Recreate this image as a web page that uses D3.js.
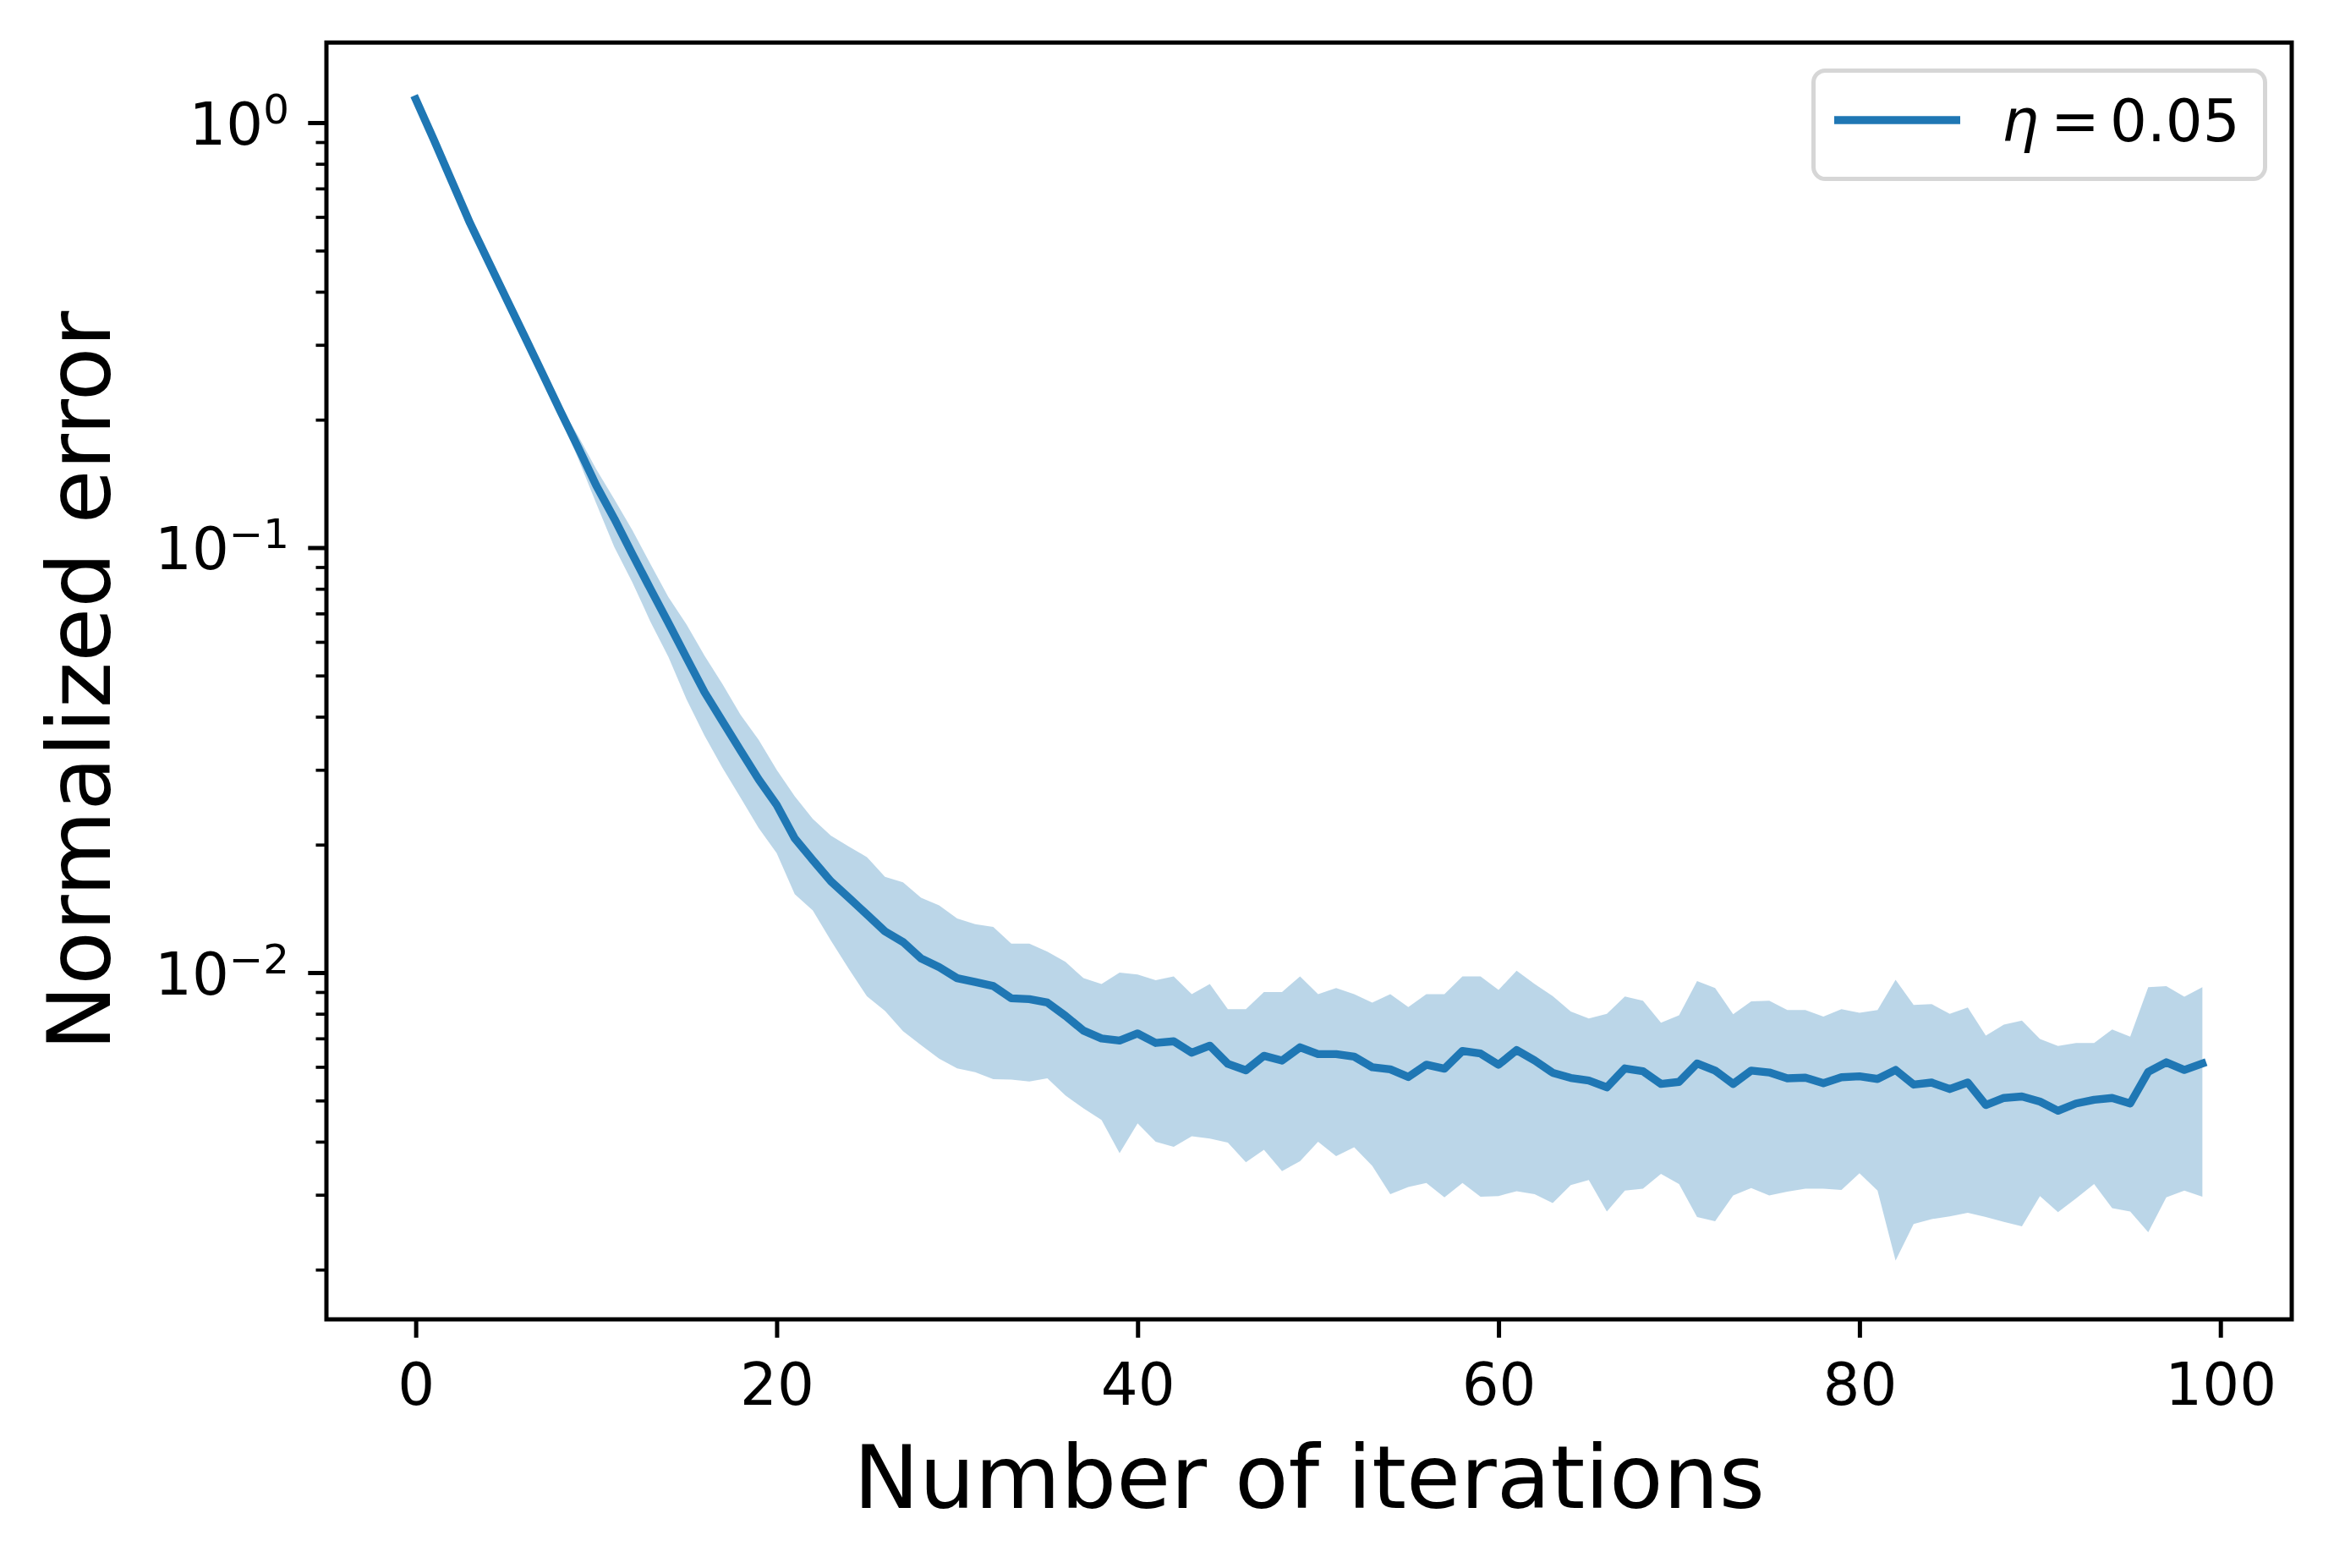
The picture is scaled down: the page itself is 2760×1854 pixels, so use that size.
<!DOCTYPE html>
<html>
<head>
<meta charset="utf-8">
<script src="https://cdn.jsdelivr.net/npm/d3@7"></script>
<style>
  html, body { margin: 0; padding: 0; background: #ffffff; }
  svg { display: block; }
  text { font-family: "DejaVu Sans", sans-serif; fill: #000; }
</style>
</head>
<body>
<svg id="chart" width="2760" height="1854"></svg>
<script>
// ---------------- data ----------------
const meanError = [
  1.135, 0.912, 0.728, 0.581, 0.474, 0.387, 0.316, 0.258, 0.210, 0.172,
  0.140, 0.117, 0.0966, 0.0800, 0.0665, 0.0551, 0.0457, 0.0390, 0.0333, 0.0285,
  0.0248, 0.0207, 0.0184, 0.0164, 0.0150, 0.0137, 0.0125, 0.0118, 0.0108, 0.0103,
  0.0097, 0.0095, 0.0093, 0.0087, 0.00866, 0.00850, 0.00791, 0.00730, 0.00700, 0.00692,
  0.00719, 0.00683, 0.00689, 0.00648, 0.00673, 0.00610, 0.00589, 0.00637, 0.00621, 0.00667,
  0.00643, 0.00643, 0.00634, 0.00599, 0.00592, 0.00568, 0.00607, 0.00594, 0.00654, 0.00645,
  0.00607, 0.00657, 0.00621, 0.00581, 0.00565, 0.00557, 0.00537, 0.00595, 0.00586, 0.00547,
  0.00553, 0.00611, 0.00588, 0.00547, 0.00588, 0.00582, 0.00564, 0.00566, 0.00549, 0.00567,
  0.00570, 0.00562, 0.00590, 0.00545, 0.00551, 0.00532, 0.00551, 0.00488, 0.00507, 0.00511,
  0.00497, 0.00473, 0.00492, 0.00502, 0.00507, 0.00492, 0.00584, 0.00615, 0.00590, 0.00611
];
const upperError = [
  1.139, 0.915, 0.731, 0.584, 0.477, 0.390, 0.319, 0.261, 0.216, 0.183,
  0.153, 0.130, 0.110, 0.0916, 0.0765, 0.0660, 0.0557, 0.0477, 0.0404, 0.0353,
  0.0300, 0.0260, 0.0230, 0.0210, 0.0198, 0.0187, 0.0168, 0.0163, 0.0150, 0.0144,
  0.0134, 0.0130, 0.0128, 0.0117, 0.0117, 0.0112, 0.0106, 0.0097, 0.0094, 0.0100,
  0.0099, 0.0096, 0.0098, 0.0089, 0.0094, 0.0082, 0.0082, 0.0090, 0.0090, 0.0098,
  0.0089, 0.0092, 0.0089, 0.0085, 0.0089, 0.0083, 0.0089, 0.0089, 0.0098, 0.0098,
  0.0091, 0.0101, 0.0094, 0.0088, 0.0081, 0.0078, 0.0080, 0.00878, 0.00859, 0.00762,
  0.00793, 0.00955, 0.00920, 0.00798, 0.00856, 0.00859, 0.00816, 0.00816, 0.00788, 0.00820,
  0.00804, 0.00816, 0.00962, 0.00839, 0.00843, 0.00800, 0.00828, 0.00711, 0.00754, 0.00771,
  0.00698, 0.00672, 0.00683, 0.00683, 0.00735, 0.00707, 0.00924, 0.00929, 0.00877, 0.00924
];
const lowerError = [
  1.131, 0.909, 0.725, 0.578, 0.471, 0.383, 0.311, 0.252, 0.203, 0.162,
  0.127, 0.1004, 0.0829, 0.0670, 0.0553, 0.0440, 0.0361, 0.0303, 0.0258, 0.0219,
  0.0191, 0.0153, 0.0140, 0.0119, 0.0102, 0.00879, 0.00813, 0.00728, 0.00675, 0.00627,
  0.00595, 0.00583, 0.00561, 0.00560, 0.00554, 0.00564, 0.00514, 0.00479, 0.00450, 0.00376,
  0.00442, 0.00400, 0.00389, 0.00412, 0.00407, 0.00398, 0.00358, 0.00383, 0.00341, 0.00360,
  0.00400, 0.00370, 0.00388, 0.00351, 0.00301, 0.00313, 0.00320, 0.00296, 0.00320, 0.00297,
  0.00298, 0.00306, 0.00301, 0.00287, 0.00316, 0.00325, 0.00274, 0.00307, 0.00310, 0.00336,
  0.00318, 0.00266, 0.00260, 0.00299, 0.00311, 0.00299, 0.00305, 0.00310, 0.00310, 0.00308,
  0.00337, 0.00307, 0.00210, 0.00256, 0.00263, 0.00267, 0.00272, 0.00266, 0.00259, 0.00253,
  0.00298, 0.00273, 0.00294, 0.00318, 0.00279, 0.00274, 0.00245, 0.00296, 0.00307, 0.00297
];
const iterations = d3.range(meanError.length);

const xTicks = [0, 20, 40, 60, 80, 100];
const xTickLabels = ["0", "20", "40", "60", "80", "100"];
const yTicks = [1, 0.1, 0.01];
const yTickExponents = ["0", "\u22121", "\u22122"];
const yMinorTicks = [0.002, 0.003, 0.004, 0.005, 0.006, 0.007, 0.008, 0.009,
                     0.02, 0.03, 0.04, 0.05, 0.06, 0.07, 0.08, 0.09,
                     0.2, 0.3, 0.4, 0.5, 0.6, 0.7, 0.8, 0.9];
const legendLabel = { symbol: "\u03B7", eq: "=", value: "0.05" };
const xLabel = "Number of iterations";
const yLabel = "Normalized error";

// ---------------- layout ----------------
const W = 2760, H = 1854;
const plot = { left: 386, right: 2710, top: 50.3, bottom: 1560 };
const blue = "#1f77b4";
const tickFont = 69, labelFont = 104;

const svg = d3.select("#chart");
svg.append("rect").attr("width", W).attr("height", H).attr("fill", "#ffffff");

const x = d3.scaleLinear().domain([-4.95, 103.95]).range([plot.left, plot.right]);
const y = d3.scaleLog().domain([Math.pow(10, -2.816), Math.pow(10, 0.1885)]).range([plot.bottom, plot.top]);

// band
const area = d3.area()
  .x((d, i) => x(iterations[i]))
  .y0((d, i) => y(lowerError[i]))
  .y1((d, i) => y(upperError[i]));
svg.append("path")
  .datum(meanError)
  .attr("d", area)
  .attr("fill", blue)
  .attr("fill-opacity", 0.3)
  .attr("stroke", "none");

// mean line
const line = d3.line()
  .x((d, i) => x(iterations[i]))
  .y(d => y(d));
svg.append("path")
  .datum(meanError)
  .attr("d", line)
  .attr("fill", "none")
  .attr("stroke", blue)
  .attr("stroke-width", 9.4)
  .attr("stroke-linejoin", "round")
  .attr("stroke-linecap", "square");

// x axis
const xAxis = svg.append("g")
  .attr("transform", `translate(0,${plot.bottom})`)
  .call(d3.axisBottom(x).tickValues(xTicks).tickSizeInner(21.7).tickSizeOuter(0)
        .tickFormat((d, i) => xTickLabels[i]));
xAxis.select(".domain").remove();
xAxis.selectAll(".tick line").attr("stroke", "#000").attr("stroke-width", 5);
xAxis.selectAll(".tick text")
  .attr("y", 101).attr("dy", null)
  .attr("font-size", tickFont)
  .attr("font-family", "DejaVu Sans")
  .attr("fill", "#000");

// y axis major
const yAxis = svg.append("g")
  .attr("transform", `translate(${plot.left},0)`)
  .call(d3.axisLeft(y).tickValues(yTicks).tickSizeInner(21.7).tickSizeOuter(0).tickFormat(""));
yAxis.select(".domain").remove();
yAxis.selectAll(".tick line").attr("stroke", "#000").attr("stroke-width", 5);

// y axis minor
const yMinor = svg.append("g")
  .attr("transform", `translate(${plot.left},0)`)
  .call(d3.axisLeft(y).tickValues(yMinorTicks).tickSizeInner(12.5).tickSizeOuter(0).tickFormat(""));
yMinor.select(".domain").remove();
yMinor.selectAll(".tick line").attr("stroke", "#000").attr("stroke-width", 3.7);

// y tick labels 10^k
yTicks.forEach((v, i) => {
  const t = svg.append("text")
    .attr("x", 342)
    .attr("y", y(v) + 26)
    .attr("text-anchor", "end")
    .attr("font-size", tickFont);
  t.append("tspan").text("10");
  t.append("tspan").attr("font-size", tickFont * 0.7).attr("dy", -25).text(yTickExponents[i]);
});

// spines
svg.append("rect")
  .attr("x", plot.left).attr("y", plot.top)
  .attr("width", plot.right - plot.left).attr("height", plot.bottom - plot.top)
  .attr("fill", "none").attr("stroke", "#000").attr("stroke-width", 5);

// axis labels
svg.append("text")
  .attr("x", (plot.left + plot.right) / 2).attr("y", 1783)
  .attr("text-anchor", "middle").attr("font-size", labelFont)
  .text(xLabel);
svg.append("text")
  .attr("transform", `translate(130,${(plot.top + plot.bottom) / 2}) rotate(-90)`)
  .attr("text-anchor", "middle").attr("font-size", labelFont)
  .text(yLabel);

// legend
const lg = svg.append("g");
lg.append("rect")
  .attr("x", 2144.5).attr("y", 83.5).attr("width", 534).attr("height", 128)
  .attr("rx", 14).attr("ry", 14)
  .attr("fill", "#ffffff").attr("fill-opacity", 0.8)
  .attr("stroke", "#d6d6d6").attr("stroke-width", 5);
lg.append("line")
  .attr("x1", 2169).attr("x2", 2318).attr("y1", 142).attr("y2", 142)
  .attr("stroke", blue).attr("stroke-width", 9.4).attr("stroke-linecap", "butt");
lg.append("text").attr("x", 2367).attr("y", 167).attr("font-size", tickFont)
  .attr("font-style", "italic").text(legendLabel.symbol);
lg.append("text").attr("x", 2425).attr("y", 167).attr("font-size", tickFont)
  .text(legendLabel.eq);
lg.append("text").attr("x", 2495).attr("y", 167).attr("font-size", tickFont)
  .text(legendLabel.value);
</script>
</body>
</html>
